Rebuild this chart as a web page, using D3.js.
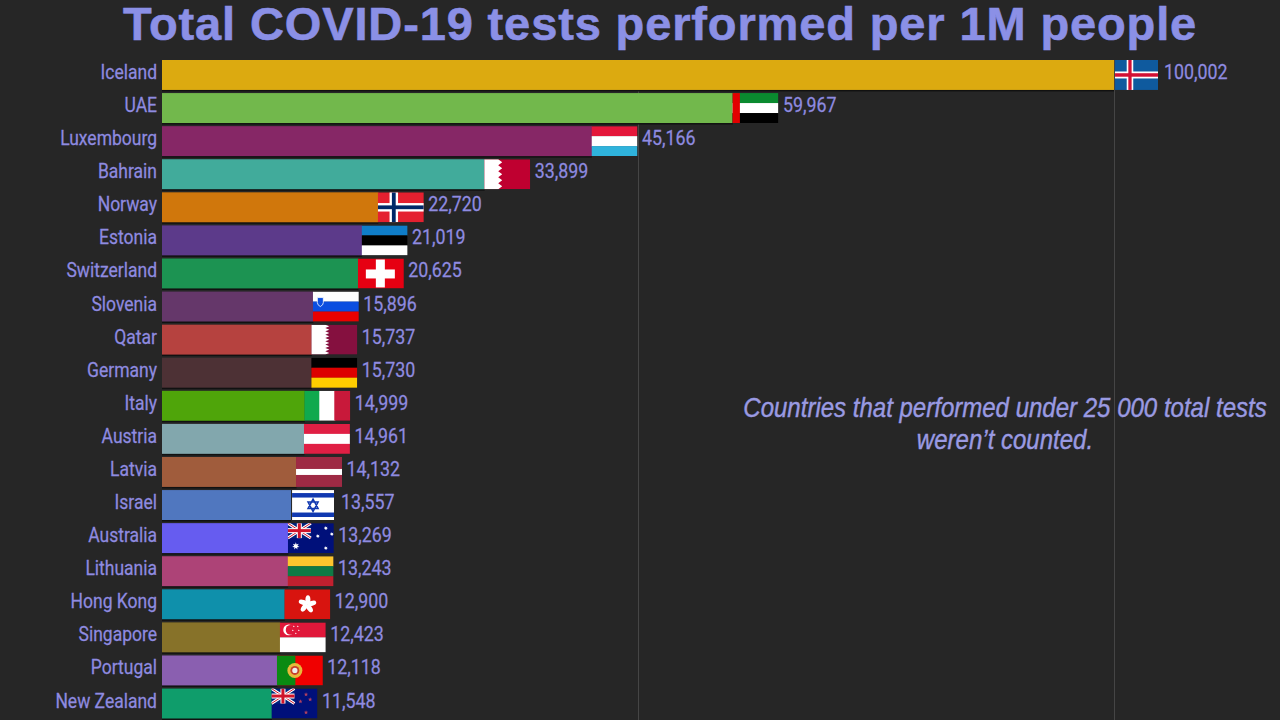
<!DOCTYPE html>
<html>
<meta charset="utf-8">
<style>
  html, body { margin: 0; padding: 0; background: #262626; overflow: hidden; }
  text { font-family: Roboto, sans-serif; }
</style>
<script src="https://d3js.org/d3.v7.min.js"></script>
<body>
<div id="my_dataviz"></div>
<script>

// data
var countries = ["Iceland", "UAE", "Luxembourg", "Bahrain", "Norway", "Estonia", "Switzerland", "Slovenia", "Qatar", "Germany",
  "Italy", "Austria", "Latvia", "Israel", "Australia", "Lithuania", "Hong Kong", "Singapore", "Portugal", "New Zealand"];
var values = [100002, 59967, 45166, 33899, 22720, 21019, 20625, 15896, 15737, 15730,
  14999, 14961, 14132, 13557, 13269, 13243, 12900, 12423, 12118, 11548];
var barColors = ["#dcaa10", "#72b84c", "#862766", "#41ab9b", "#d0770c", "#5c3a8a", "#1c9352", "#65376a", "#b6423f", "#4d3135",
  "#4fa50a", "#82a7ad", "#a05c3c", "#5077bf", "#665cf0", "#ad4377", "#0f90ab", "#877229", "#8a5fb0", "#0f9d6b"];
var gridTicks = [50000, 100000];
var titleText = "Total COVID-19 tests performed per 1M people";
var noteLines = ["Countries that performed under 25 000 total tests", "weren\u2019t counted."];

var width = 1280, height = 720;
var textColor = "#8f8be0";

var svg = d3.select("#my_dataviz").append("svg")
  .attr("width", width)
  .attr("height", height)
  .style("display", "block")
  .style("background", "#262626");

var x = d3.scaleLinear().domain([0, 100000]).range([162, 1114]);
var y = d3.scaleBand().domain(countries).range([60, 718.5]).paddingInner(0.095).paddingOuter(0);

// gridlines
var grid = svg.append("g")
  .attr("transform", "translate(0,60)")
  .call(d3.axisTop(x).tickValues(gridTicks).tickSize(-660).tickFormat(""));
grid.select(".domain").remove();
grid.selectAll("line").attr("stroke", "#454545").attr("stroke-width", 1);

// title
svg.append("text")
  .attr("x", 660)
  .attr("y", 39.5)
  .attr("text-anchor", "middle")
  .style("font-family", "'Liberation Sans', Arial, sans-serif")
  .style("font-weight", "bold")
  .style("font-size", "47px")
  .style("letter-spacing", "0.87px")
  .attr("fill", "#8b90e6")
  .attr("stroke", "#8b90e6")
  .attr("stroke-width", 0.6)
  .text(titleText);

// note on the right
svg.selectAll("text.note")
  .data(noteLines)
  .enter().append("text")
  .attr("class", "note")
  .attr("text-anchor", "middle")
  .attr("transform", function(d, i) { return "translate(1005," + (417 + i * 32) + ") scale(0.89,1)"; })
  .style("font-family", "'Liberation Sans', Arial, sans-serif")
  .style("font-style", "italic")
  .style("font-size", "27px")
  .attr("fill", "#9a9ae2")
  .attr("stroke", "#9a9ae2")
  .attr("stroke-width", 0.4)
  .text(function(d) { return d; });

var rows = d3.range(countries.length);

// thin dark edge under each bar
svg.selectAll("rect.edge")
  .data(rows)
  .enter().append("rect")
  .attr("class", "edge")
  .attr("x", x(0))
  .attr("y", function(i) { return y(countries[i]) + 1.5; })
  .attr("width", function(i) { return x(values[i]) - x(0); })
  .attr("height", y.bandwidth())
  .attr("fill", "#111");

// bars
svg.selectAll("rect.bar")
  .data(rows)
  .enter().append("rect")
  .attr("class", "bar")
  .attr("x", x(0))
  .attr("y", function(i) { return y(countries[i]); })
  .attr("width", function(i) { return x(values[i]) - x(0); })
  .attr("height", y.bandwidth())
  .attr("fill", function(i) { return barColors[i]; });

// country labels
svg.selectAll("text.name")
  .data(rows)
  .enter().append("text")
  .attr("class", "name")
  .attr("text-anchor", "end")
  .attr("transform", function(i) { return "translate(157," + (y(countries[i]) + y.bandwidth() / 2 + 4) + ") scale(0.875,1)"; })
  .style("font-size", "20px")
  .attr("fill", textColor)
  .attr("stroke", textColor)
  .attr("stroke-width", 0.25)
  .text(function(i) { return countries[i]; });

// flag helpers, everything inside a 46x30 box
function box(g, a, b, w, h, c) {
  g.append("rect").attr("x", a).attr("y", b).attr("width", w).attr("height", h).attr("fill", c);
}
function hStripes(g, cols) {
  cols.forEach(function(c, i) { box(g, 0, i * 30 / cols.length, 46, 30 / cols.length + 0.2, c); });
}
function cross(g, cx, cy, t, c) {
  box(g, cx - t / 2, 0, t, 30, c);
  box(g, 0, cy - t / 2, 46, t, c);
}
function serrated(g, edge, teeth, c) {
  var h = 30 / teeth, pts = [[0, 0]];
  d3.range(teeth).forEach(function(k) {
    pts.push([edge, k * h], [edge + 4, k * h + h / 2]);
  });
  pts.push([edge, 30], [0, 30]);
  g.append("polygon").attr("points", pts.join(" ")).attr("fill", c);
}
function star(g, cx, cy, r, c, n) {
  n = n || 5;
  var pts = d3.range(n * 2).map(function(k) {
    var a = Math.PI * k / n - Math.PI / 2, rr = k % 2 ? r * 0.45 : r;
    return [cx + rr * Math.cos(a), cy + rr * Math.sin(a)];
  });
  g.append("polygon").attr("points", pts.join(" ")).attr("fill", c);
}
function unionJack(g) {
  var u = g.append("g");
  box(u, 0, 0, 23, 15, "#00247d");
  u.append("path").attr("d", "M0,0L23,15M23,0L0,15").attr("stroke", "#fff").attr("stroke-width", 3);
  u.append("path").attr("d", "M0,0L23,15M23,0L0,15").attr("stroke", "#cf142b").attr("stroke-width", 1);
  box(u, 9, 0, 5, 15, "#fff");
  box(u, 0, 5, 23, 5, "#fff");
  box(u, 10, 0, 3, 15, "#cf142b");
  box(u, 0, 6, 23, 3, "#cf142b");
}

var flags = {
  "Iceland": function(g) { box(g, 0, 0, 46, 30, "#0f5a9e"); cross(g, 16, 15, 7, "#fff"); cross(g, 16, 15, 3.5, "#d21034"); },
  "UAE": function(g) {
    hStripes(g, ["#0a8a2f", "#fff", "#000"]);
    box(g, 0, 0, 7.5, 30, "#e30000");
  },
  "Luxembourg": function(g) { hStripes(g, ["#e4173a", "#fff", "#2fb3dc"]); },
  "Bahrain": function(g) { box(g, 0, 0, 46, 30, "#bf0030"); serrated(g, 14, 5, "#fff"); },
  "Norway": function(g) { box(g, 0, 0, 46, 30, "#e4202f"); cross(g, 16, 15, 8.5, "#fff"); cross(g, 16, 15, 3.8, "#002868"); },
  "Estonia": function(g) { hStripes(g, ["#0f7dc8", "#000", "#fff"]); },
  "Switzerland": function(g) {
    box(g, 0, 0, 46, 30, "#e60012");
    box(g, 18, 1, 9, 28, "#fff");
    box(g, 8, 11, 29, 9, "#fff");
  },
  "Slovenia": function(g) {
    hStripes(g, ["#fff", "#0b4ee0", "#ea0000"]);
    g.append("path").attr("d", "M4.5,6H10.5V11Q10.5,13.5 7.5,15Q4.5,13.5 4.5,11Z").attr("fill", "#0b4ee0").attr("stroke", "#fff").attr("stroke-width", 0.8);
  },
  "Qatar": function(g) { box(g, 0, 0, 46, 30, "#85103f"); serrated(g, 14, 9, "#fff"); },
  "Germany": function(g) { hStripes(g, ["#000", "#dd0000", "#ffce00"]); },
  "Italy": function(g) {
    box(g, 0, 0, 16, 30, "#10a94e");
    box(g, 15, 0, 16, 30, "#fff");
    box(g, 30, 0, 16, 30, "#c8193a");
  },
  "Austria": function(g) { hStripes(g, ["#e01f44", "#fff", "#e01f44"]); },
  "Latvia": function(g) {
    box(g, 0, 0, 46, 30, "#9e2a44");
    box(g, 0, 12, 46, 6, "#fff");
  },
  "Israel": function(g) {
    box(g, 0, 0, 46, 30, "#fff");
    box(g, 0, 3, 46, 4.5, "#1038b0");
    box(g, 0, 22.5, 46, 4.5, "#1038b0");
    g.append("path").attr("d", "M23,9L28.5,18.5H17.5ZM23,21.5L17.5,12H28.5Z").attr("fill", "none").attr("stroke", "#1038b0").attr("stroke-width", 1.6);
  },
  "Australia": function(g) {
    box(g, 0, 0, 46, 30, "#00107a");
    unionJack(g);
    star(g, 8, 23, 3.8, "#fff", 7);
    star(g, 38, 5, 2.2, "#fff", 7);
    star(g, 30, 13, 2.2, "#fff", 7);
    star(g, 44, 11, 2.2, "#fff", 7);
    star(g, 38, 25, 2.2, "#fff", 7);
  },
  "Lithuania": function(g) { hStripes(g, ["#fdc52e", "#0f7a45", "#c1202f"]); },
  "Hong Kong": function(g) {
    box(g, 0, 0, 46, 30, "#d8140f");
    d3.range(5).forEach(function(k) {
      g.append("ellipse").attr("cx", 23.6).attr("cy", 10.5).attr("rx", 2.5).attr("ry", 4.6)
        .attr("fill", "#fff").attr("transform", "rotate(" + (k * 72) + " 23 15)");
    });
  },
  "Singapore": function(g) {
    hStripes(g, ["#e0183a", "#fff"]);
    g.append("circle").attr("cx", 9).attr("cy", 7.5).attr("r", 5.5).attr("fill", "#fff");
    g.append("circle").attr("cx", 11).attr("cy", 7.5).attr("r", 5).attr("fill", "#e0183a");
    [[14, 4], [18, 4], [19, 8], [16, 11], [13, 8]].forEach(function(p) { star(g, p[0], p[1], 1, "#fff"); });
  },
  "Portugal": function(g) {
    box(g, 0, 0, 46, 30, "#f00000");
    box(g, 0, 0, 18.5, 30, "#0a8a12");
    g.append("circle").attr("cx", 18).attr("cy", 15).attr("r", 7.5).attr("fill", "#e8b93a");
    g.append("circle").attr("cx", 18).attr("cy", 15).attr("r", 4.5).attr("fill", "#c8402e");
    g.append("circle").attr("cx", 18).attr("cy", 15).attr("r", 2.6).attr("fill", "#eee");
  },
  "New Zealand": function(g) {
    box(g, 0, 0, 46, 30, "#00107a");
    unionJack(g);
    [[34.6, 6], [29, 13], [38.7, 11], [34.6, 24]].forEach(function(p) { star(g, p[0], p[1], 2.2, "#b04060"); });
  }
};

// two flags in the picture are narrower than the others
function flagWidth(name) {
  return name == "Iceland" ? 43 : name == "Israel" ? 42 : 46;
}

rows.forEach(function(i) {
  var name = countries[i];
  var f = svg.append("svg")
    .attr("class", "flag")
    .attr("x", x(values[i]) + (name == "Iceland" || name == "Israel" ? 1 : -0.5))
    .attr("y", y(name))
    .attr("width", flagWidth(name))
    .attr("height", y.bandwidth())
    .attr("viewBox", "0 0 46 30")
    .attr("preserveAspectRatio", "none");
  flags[name](f);
});

// value labels
svg.selectAll("text.value")
  .data(rows)
  .enter().append("text")
  .attr("class", "value")
  .attr("transform", function(i) {
    return "translate(" + (x(values[i]) + 50) + "," + (y(countries[i]) + y.bandwidth() / 2 + 4) + ") scale(0.89,1)";
  })
  .style("font-size", "20px")
  .attr("fill", textColor)
  .attr("stroke", textColor)
  .attr("stroke-width", 0.25)
  .text(function(i) { return d3.format(",")(values[i]); });

</script>
</body>
</html>
